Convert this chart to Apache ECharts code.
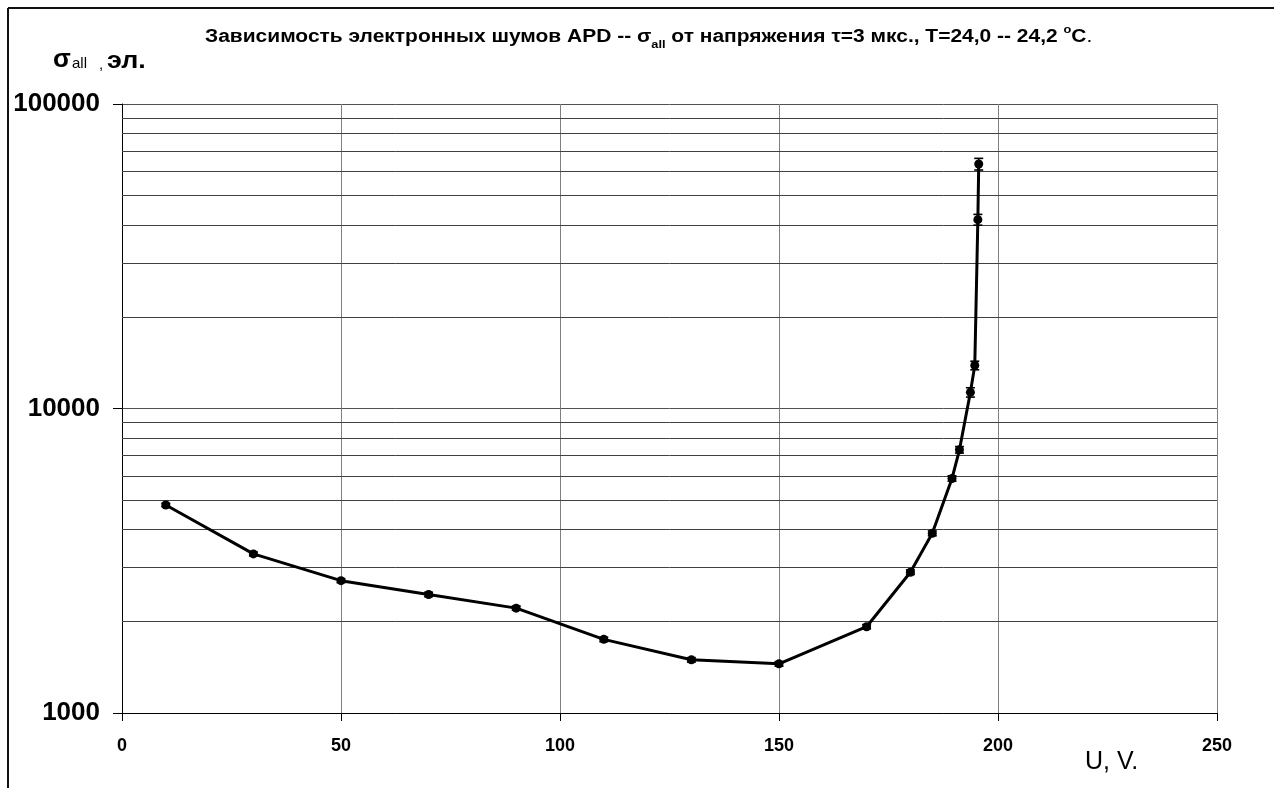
<!DOCTYPE html>
<html>
<head>
<meta charset="utf-8">
<title>APD noise vs voltage</title>
<script src="https://cdn.jsdelivr.net/npm/echarts@6/dist/echarts.min.js"></script>
<style>
  html, body { margin: 0; padding: 0; background: #fff; }
  #chart { width: 1274px; height: 788px; }
</style>
</head>
<body>
<div id="chart"></div>
<script>
// Bias voltage U, V
const voltage = [10, 30, 50, 70, 90, 110, 130, 150, 170, 180, 185, 189.5, 191.2, 193.7, 194.7, 195.4, 195.6];
// Total electronic noise sigma_all, electrons
const sigmaAll = [4820, 3330, 2720, 2450, 2210, 1745, 1495, 1450, 1920, 2900, 3890, 5890, 7320, 11300, 13850, 41700, 63500];
// Measurement error of sigma_all, electrons
const sigmaErr = [60, 50, 40, 40, 35, 30, 25, 25, 30, 50, 70, 120, 180, 400, 450, 1700, 2800];
// Intermediate horizontal grid lines of the log axis
const minorGridValues = [2000, 3000, 4000, 5000, 6000, 7000, 8000, 9000,
                         20000, 30000, 40000, 50000, 60000, 70000, 80000, 90000];
// Axis ranges
const xTicks = [0, 50, 100, 150, 200, 250];
const yRange = [1000, 100000];

const FONT = '"Liberation Sans", Arial, sans-serif';

const lineData = voltage.map((u, i) => [u, sigmaAll[i]]);
const errData = voltage.map((u, i) => [u, sigmaAll[i] - sigmaErr[i], sigmaAll[i] + sigmaErr[i]]);

const chart = echarts.init(document.getElementById('chart'), null, { renderer: 'canvas' });

chart.setOption({
  animation: false,
  backgroundColor: '#fff',
  graphic: [
    // outer frame
    { type: 'line', silent: true, shape: { x1: 8, y1: 8, x2: 1274, y2: 8 }, style: { stroke: '#111', lineWidth: 2 } },
    { type: 'line', silent: true, shape: { x1: 8, y1: 8, x2: 8, y2: 788 }, style: { stroke: '#111', lineWidth: 2 } },
    // chart title (slightly widened lettering)
    {
      type: 'text', x: 205, y: 24, scaleX: 1.165, silent: true,
      style: {
        text: '{t|Зависимость электронных шумов APD -- σ}{sub|all}{t| от напряжения τ=3 мкс., T=24,0 -- 24,2 }{sup|o}{t|C}{n|.}',
        verticalAlign: 'top',
        rich: {
          t: { fontFamily: FONT, fontWeight: 'bold', fontSize: 18, fill: '#000', lineHeight: 26 },
          n: { fontFamily: FONT, fontWeight: 'normal', fontSize: 18, fill: '#000', lineHeight: 26 },
          sub: { fontFamily: FONT, fontWeight: 'bold', fontSize: 11, fill: '#000', lineHeight: 14, verticalAlign: 'bottom' },
          sup: { fontFamily: FONT, fontWeight: 'bold', fontSize: 11, fill: '#000', lineHeight: 14, verticalAlign: 'top' }
        }
      }
    },
    // y axis name: sigma_all , эл.
    {
      type: 'text', x: 53, y: 73, silent: true,
      style: { text: 'σ', fontFamily: FONT, fontWeight: 'bold', fontSize: 26, fill: '#000', verticalAlign: 'bottom' }
    },
    {
      type: 'text', x: 72, y: 71, silent: true,
      style: { text: 'all', fontFamily: FONT, fontWeight: 'normal', fontSize: 15, fill: '#000', verticalAlign: 'bottom' }
    },
    {
      type: 'text', x: 99, y: 72, silent: true,
      style: { text: ',', fontFamily: FONT, fontWeight: 'normal', fontSize: 15, fill: '#000', verticalAlign: 'bottom' }
    },
    {
      type: 'text', x: 107, y: 73, scaleX: 1.12, silent: true,
      style: { text: 'эл.', fontFamily: FONT, fontWeight: 'bold', fontSize: 24, fill: '#000', verticalAlign: 'bottom' }
    },
    // x axis name
    {
      type: 'text', left: 1085, top: 750, silent: true,
      style: { text: 'U, V.', fontFamily: FONT, fontSize: 25, fontWeight: 'normal', fill: '#000' }
    }
  ],
  grid: { left: 122, right: 57, top: 104, bottom: 75, containLabel: false },
  xAxis: {
    type: 'value',
    min: xTicks[0],
    max: xTicks[xTicks.length - 1],
    interval: 50,
    axisLine: { show: true, onZero: false, lineStyle: { color: '#000', width: 1 } },
    axisTick: { show: true, length: 8, lineStyle: { color: '#000' } },
    axisLabel: { margin: 24, fontFamily: FONT, fontWeight: 'bold', fontSize: 18, color: '#000' },
    splitLine: { show: true, lineStyle: { color: '#808080', width: 1 } }
  },
  yAxis: {
    type: 'log',
    logBase: 10,
    min: yRange[0],
    max: yRange[1],
    axisLine: { show: true, lineStyle: { color: '#000', width: 1 } },
    axisTick: { show: true, length: 9, lineStyle: { color: '#000' } },
    axisLabel: {
      margin: 22, fontFamily: FONT, fontWeight: 'bold', fontSize: 26, color: '#000',
      formatter: v => String(Math.round(v))
    },
    splitLine: { show: true, lineStyle: { color: '#505050', width: 1 } },
    minorTick: { show: false },
    minorSplitLine: { show: false }
  },
  series: [
    {
      type: 'line',
      data: lineData,
      symbol: 'circle',
      symbolSize: 9,
      showSymbol: true,
      itemStyle: { color: '#000' },
      lineStyle: { color: '#000', width: 3 },
      z: 5,
      markLine: {
        silent: true,
        symbol: ['none', 'none'],
        label: { show: false },
        lineStyle: { color: '#404040', width: 1, type: 'solid' },
        data: minorGridValues.map(v => ({ yAxis: v })),
        z: 1
      }
    },
    {
      type: 'custom',
      data: errData,
      encode: { x: 0, y: [1, 2] },
      z: 6,
      renderItem(params, api) {
        const x = api.value(0);
        const pLo = api.coord([x, api.value(1)]);
        const pHi = api.coord([x, api.value(2)]);
        const w = 4.5;
        const st = { stroke: '#000', lineWidth: 1.6 };
        return {
          type: 'group',
          children: [
            { type: 'line', shape: { x1: pLo[0], y1: pLo[1], x2: pHi[0], y2: pHi[1] }, style: st },
            { type: 'line', shape: { x1: pHi[0] - w, y1: pHi[1], x2: pHi[0] + w, y2: pHi[1] }, style: st },
            { type: 'line', shape: { x1: pLo[0] - w, y1: pLo[1], x2: pLo[0] + w, y2: pLo[1] }, style: st }
          ]
        };
      }
    }
  ]
});
</script>
</body>
</html>
